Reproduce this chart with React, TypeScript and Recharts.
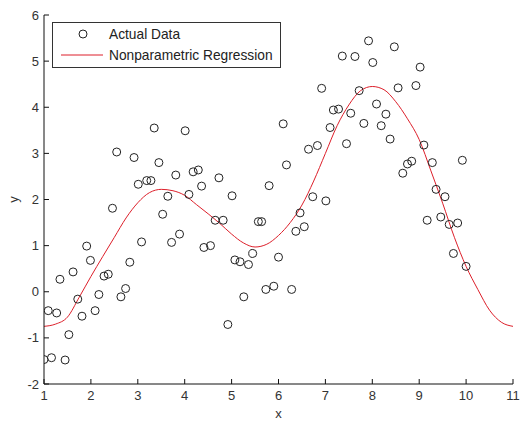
import React from "react";
import {
  ComposedChart, Scatter, Line, XAxis, YAxis, Legend,
} from "recharts";

// observed samples
const sampleX = [
  1.0, 1.16, 1.45, 1.09, 1.27, 1.53, 1.34, 1.62, 1.72, 1.81,
  2.09, 2.17, 2.28, 2.37, 1.99, 2.64, 2.74, 2.83, 1.91, 2.46,
  2.55, 2.92, 3.35, 3.45, 3.01, 3.19, 3.28, 3.81, 3.64, 3.53,
  3.08, 3.72, 3.89, 4.01, 4.18, 4.29, 4.73, 4.36, 4.09, 5.01,
  4.65, 4.82, 5.57, 5.64, 4.41, 4.55, 5.07, 5.18, 5.36, 5.45,
  6.0, 5.26, 4.92, 5.73, 5.9, 6.28, 5.8, 6.17, 6.1, 6.64,
  6.83, 6.73, 7.01, 6.46, 6.55, 6.37, 6.92, 7.1, 7.17, 7.28,
  7.36, 7.63, 7.92, 8.47, 8.01, 9.02, 8.93, 8.55, 7.72, 7.54,
  8.09, 8.29, 7.82, 8.19, 8.38, 7.45, 9.1, 9.28, 9.92, 8.65,
  8.75, 8.84, 9.36, 9.55, 9.17, 9.46, 9.64, 9.82, 9.73, 10.0,
];
const sampleY = [
  -1.47, -1.43, -1.48, -0.41, -0.46, -0.93, 0.27, 0.43, -0.16, -0.53,
  -0.41, -0.06, 0.34, 0.38, 0.68, -0.11, 0.07, 0.64, 0.99, 1.81,
  3.03, 2.91, 3.55, 2.8, 2.33, 2.41, 2.41, 2.53, 2.07, 1.68,
  1.08, 1.07, 1.25, 3.49, 2.6, 2.64, 2.47, 2.29, 2.11, 2.08,
  1.55, 1.55, 1.52, 1.52, 0.96, 1.0, 0.69, 0.65, 0.59, 0.83,
  0.75, -0.11, -0.71, 0.05, 0.12, 0.05, 2.3, 2.75, 3.64, 3.09,
  3.17, 2.06, 1.97, 1.71, 1.41, 1.31, 4.41, 3.56, 3.94, 3.96,
  5.11, 5.1, 5.44, 5.31, 4.97, 4.87, 4.47, 4.42, 4.36, 3.87,
  4.07, 3.85, 3.65, 3.6, 3.31, 3.21, 3.18, 2.8, 2.85, 2.57,
  2.77, 2.83, 2.22, 2.06, 1.55, 1.62, 1.46, 1.49, 0.83, 0.55,
];

// regression curve
const fitX = [
  1.0, 1.25, 1.5, 1.75, 2.0, 2.25, 2.5, 2.75, 3.0, 3.25,
  3.5, 3.75, 4.0, 4.25, 4.5, 4.75, 5.0, 5.25, 5.5, 5.75,
  6.0, 6.25, 6.5, 6.75, 7.0, 7.25, 7.5, 7.75, 8.0, 8.25,
  8.5, 8.75, 9.0, 9.25, 9.5, 9.75, 10.0, 10.25, 10.5, 10.75, 11.0,
];
const fitY = [
  -0.75, -0.7, -0.55, -0.12, 0.33, 0.76, 1.18, 1.6, 1.93, 2.15,
  2.22, 2.19, 2.09, 1.89, 1.69, 1.48, 1.25, 1.06, 0.97, 1.03,
  1.22, 1.5, 1.88, 2.4, 3.0, 3.6, 4.05, 4.36, 4.45, 4.38,
  4.12, 3.75, 3.3, 2.62, 1.92, 1.18, 0.55, 0.05, -0.4, -0.66, -0.75,
];

const xTicks = [1, 2, 3, 4, 5, 6, 7, 8, 9, 10, 11];
const yTicks = [-2, -1, 0, 1, 2, 3, 4, 5, 6];

const samples = sampleX.map((x, i) => ({ x, y: sampleY[i] }));
const fit = fitX.map((x, i) => ({ x, y: fitY[i] }));

const FONT = "'Liberation Sans', Arial, sans-serif";
const RED = "#dd1f2a";
const TICK_GAP = 5;
const TICK_LEN = 5;

const XTick = (props: any) => {
  const { x, y, payload } = props;
  const axisY = y - TICK_GAP;
  return (
    <g>
      <line x1={x} y1={axisY} x2={x} y2={axisY - TICK_LEN} stroke="#111" />
      <text x={x} y={y} dy="0.85em" textAnchor="middle" fill="#333" fontSize={13} fontFamily={FONT}>
        {payload.value}
      </text>
    </g>
  );
};

const YTick = (props: any) => {
  const { x, y, payload } = props;
  const axisX = x + TICK_GAP;
  return (
    <g>
      <line x1={axisX} y1={y} x2={axisX + TICK_LEN} y2={y} stroke="#111" />
      <text x={x} y={y} dy="0.35em" textAnchor="end" fill="#333" fontSize={13} fontFamily={FONT}>
        {payload.value}
      </text>
    </g>
  );
};

const Ring = (props: any) => (
  <circle cx={props.cx} cy={props.cy} r={4} fill="none" stroke="#222" strokeWidth={1} />
);

const LegendBox = () => (
  <div style={{ border: "1px solid #333", background: "#fff", width: 227, height: 44 }}>
    <svg width={227} height={44} style={{ display: "block" }}>
      <circle cx={30} cy={11} r={4} fill="none" stroke="#222" />
      <text x={56} y={11} dy="0.35em" fontSize={13.75} fontFamily={FONT} fill="#222">Actual Data</text>
      <line x1={8} y1={32} x2={50} y2={32} stroke={RED} />
      <text x={56} y={32} dy="0.35em" fontSize={13.75} fontFamily={FONT} fill="#222">
        Nonparametric Regression
      </text>
    </svg>
  </div>
);

export default function App() {
  return (
    <div style={{ position: "absolute", left: 0, top: 0, background: "#fff" }}>
      <ComposedChart
        width={521}
        height={422}
        margin={{ top: 15, right: 8, bottom: 0, left: 0 }}
      >
        <XAxis
          type="number"
          dataKey="x"
          domain={[1, 11]}
          ticks={xTicks}
          allowDataOverflow
          height={38}
          tickSize={0}
          tickMargin={TICK_GAP}
          tickLine={false}
          axisLine={{ stroke: "#111" }}
          tick={<XTick />}
          label={{ value: "x", position: "insideBottom", offset: 4, fill: "#333", fontSize: 13, fontFamily: FONT }}
        />
        <YAxis
          type="number"
          dataKey="y"
          domain={[-2, 6]}
          ticks={yTicks}
          allowDataOverflow
          width={44}
          tickSize={0}
          tickMargin={TICK_GAP}
          tickLine={false}
          axisLine={{ stroke: "#111" }}
          tick={<YTick />}
          label={(p: any) => {
            const vb = p.viewBox || { x: 0, y: 15, height: 369 };
            const cx = vb.x + 13;
            const cy = vb.y + vb.height / 2;
            return (
              <text x={cx} y={cy} textAnchor="middle" dominantBaseline="central"
                transform={`rotate(-90, ${cx}, ${cy})`} fill="#333" fontSize={13} fontFamily={FONT}>
                y
              </text>
            );
          }}
        />
        <Legend
          verticalAlign="middle"
          layout="horizontal"
          content={<LegendBox />}
          wrapperStyle={{ position: "absolute", left: 52, top: 22, width: "auto", height: "auto" }}
        />
        <Scatter
          name="Actual Data"
          data={samples}
          dataKey="y"
          shape={<Ring />}
          isAnimationActive={false}
        />
        <Line
          name="Nonparametric Regression"
          data={fit}
          dataKey="y"
          type="monotone"
          stroke={RED}
          strokeWidth={1}
          dot={false}
          activeDot={false}
          isAnimationActive={false}
        />
      </ComposedChart>
    </div>
  );
}
